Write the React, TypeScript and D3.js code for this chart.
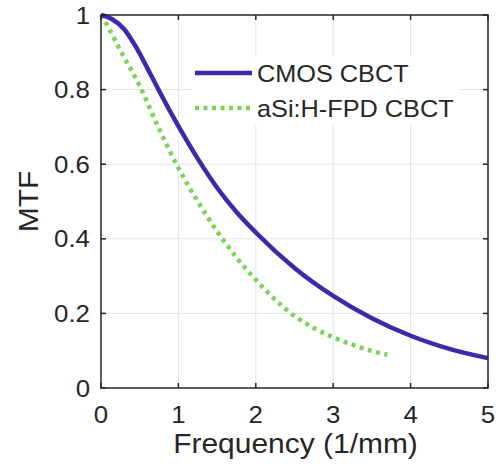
import React, { useRef, useEffect } from 'react';
import * as d3 from 'd3';

// MTF curves
const cmosFreq = [0, 0.15, 0.3, 0.45, 0.6, 0.75, 1.0, 1.25, 1.5, 1.75, 2.0, 2.5, 3.0, 3.5, 4.0, 4.5, 5.0];
const cmosMtf = [1.0, 0.988, 0.962, 0.915, 0.857, 0.797, 0.702, 0.615, 0.537, 0.472, 0.417, 0.322, 0.247, 0.187, 0.14, 0.105, 0.08];

const asiFreq = [0, 0.1, 0.25, 0.5, 0.75, 1.0, 1.25, 1.5, 1.75, 2.0, 2.25, 2.5, 2.75, 3.0, 3.25, 3.5, 3.7];
const asiMtf = [1.0, 0.965, 0.905, 0.81, 0.695, 0.59, 0.5, 0.42, 0.35, 0.29, 0.237, 0.193, 0.161, 0.136, 0.116, 0.099, 0.089];

const xTicks = [0, 1, 2, 3, 4, 5];
const yTicks = [0, 0.2, 0.4, 0.6, 0.8, 1];
const seriesNames = ['CMOS CBCT', 'aSi:H-FPD CBCT'];

const App = () => {
  const chartRef = useRef<SVGSVGElement>(null);

  useEffect(() => {
    drawChart();
  }, []);

  const drawChart = () => {
    const width = 499;
    const height = 468;
    const left = 101, right = 488, top = 15, bottom = 388;
    const font = 'Liberation Sans, Arial, sans-serif';
    const ink = '#262626';
    const blue = '#3b2aaa';
    const green = '#7ed35a';

    const svg = d3.select(chartRef.current);
    svg.selectAll('*').remove();
    svg.attr('width', width).attr('height', height);

    const x = d3.scaleLinear().domain([0, 5]).range([left, right]);
    const y = d3.scaleLinear().domain([0, 1]).range([bottom, top]);

    svg.append('rect').attr('width', width).attr('height', height).attr('fill', '#fff');

    // grid
    svg.selectAll('.gx').data(xTicks.slice(1, -1)).enter().append('line')
      .attr('x1', (d) => x(d)).attr('x2', (d) => x(d)).attr('y1', top).attr('y2', bottom)
      .attr('stroke', '#e3e3e3').attr('stroke-width', 1);
    svg.selectAll('.gy').data(yTicks.slice(1, -1)).enter().append('line')
      .attr('y1', (d) => y(d)).attr('y2', (d) => y(d)).attr('x1', left).attr('x2', right)
      .attr('stroke', '#e3e3e3').attr('stroke-width', 1);

    // curves
    const line = d3.line<[number, number]>()
      .x((d) => x(d[0])).y((d) => y(d[1]))
      .curve(d3.curveMonotoneX);

    svg.append('path')
      .attr('d', line(asiFreq.map((f, i) => [f, asiMtf[i]]) as [number, number][]))
      .attr('fill', 'none').attr('stroke', green).attr('stroke-width', 4.5)
      .attr('stroke-dasharray', '4,4.5');

    svg.append('path')
      .attr('d', line(cmosFreq.map((f, i) => [f, cmosMtf[i]]) as [number, number][]))
      .attr('fill', 'none').attr('stroke', blue).attr('stroke-width', 4.5);

    // box + ticks
    svg.append('rect')
      .attr('x', left).attr('y', top).attr('width', right - left).attr('height', bottom - top)
      .attr('fill', 'none').attr('stroke', ink).attr('stroke-width', 1.5);

    const tl = 5;
    xTicks.forEach((t) => {
      svg.append('line').attr('x1', x(t)).attr('x2', x(t)).attr('y1', bottom).attr('y2', bottom - tl)
        .attr('stroke', ink).attr('stroke-width', 1.5);
      svg.append('line').attr('x1', x(t)).attr('x2', x(t)).attr('y1', top).attr('y2', top + tl)
        .attr('stroke', ink).attr('stroke-width', 1.5);
      svg.append('text')
        .attr('transform', `translate(${x(t)},${423}) scale(1.1,1)`)
        .attr('text-anchor', 'middle')
        .style('font-family', font).style('font-size', '23.5px').attr('fill', ink)
        .text(String(t));
    });
    yTicks.forEach((t) => {
      svg.append('line').attr('x1', left).attr('x2', left + tl).attr('y1', y(t)).attr('y2', y(t))
        .attr('stroke', ink).attr('stroke-width', 1.5);
      svg.append('line').attr('x1', right).attr('x2', right - tl).attr('y1', y(t)).attr('y2', y(t))
        .attr('stroke', ink).attr('stroke-width', 1.5);
      svg.append('text')
        .attr('transform', `translate(${left - 11},${y(t) + 8.5}) scale(1.1,1)`)
        .attr('text-anchor', 'end')
        .style('font-family', font).style('font-size', '23.5px').attr('fill', ink)
        .text(String(t));
    });

    // axis labels
    svg.append('text')
      .attr('transform', `translate(${(left + right) / 2 + 1},453) scale(1.07,1)`)
      .attr('text-anchor', 'middle')
      .style('font-family', font).style('font-size', '28px').attr('fill', ink)
      .text('Frequency (1/mm)');
    svg.append('text')
      .attr('transform', `translate(38,${(top + bottom) / 2}) rotate(-90) scale(1.07,1)`)
      .attr('text-anchor', 'middle')
      .style('font-family', font).style('font-size', '28px').attr('fill', ink)
      .text('MTF');

    // legend (white box, no border)
    svg.append('rect').attr('x', 192).attr('y', 57).attr('width', 268).attr('height', 68).attr('fill', '#fff');
    const rows = [
      { name: seriesNames[0], color: blue, dash: null, cy: 73 },
      { name: seriesNames[1], color: green, dash: '4,4.5', cy: 108 },
    ];
    rows.forEach((r) => {
      svg.append('line').attr('x1', 195).attr('x2', 252).attr('y1', r.cy).attr('y2', r.cy)
        .attr('stroke', r.color).attr('stroke-width', 4.5)
        .attr('stroke-dasharray', r.dash);
      svg.append('text')
        .attr('transform', `translate(257,${r.cy + 8.5}) scale(1.1,1)`)
        .style('font-family', font).style('font-size', '23px').attr('fill', ink)
        .text(r.name);
    });
  };

  return <svg ref={chartRef} style={{ position: 'absolute', left: 0, top: 0 }}></svg>;
};

export default App;
